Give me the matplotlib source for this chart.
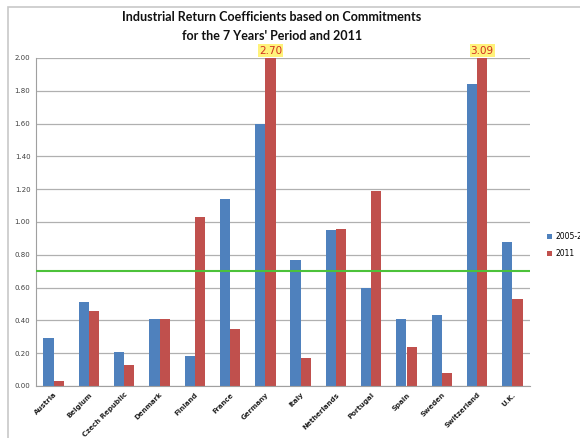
import numpy as np
import matplotlib.pyplot as plt
from matplotlib.patches import Rectangle

countries = ['Austria', 'Belgium', 'Czech Republic', 'Denmark', 'Finland', 'France',
             'Germany', 'Italy', 'Netherlands', 'Portugal', 'Spain', 'Sweden',
             'Switzerland', 'U.K.']
period = [0.29, 0.51, 0.21, 0.41, 0.18, 1.14, 1.60, 0.77, 0.95, 0.60, 0.41, 0.43, 1.84, 0.88]
y2011 = [0.03, 0.46, 0.13, 0.41, 1.03, 0.35, 2.70, 0.17, 0.96, 1.19, 0.24, 0.08, 3.09, 0.53]
threshold = 0.70
ymax = 2.0

blue = '#4F81BD'
red = '#C0504D'

fig = plt.figure(figsize=(5.8, 4.38), dpi=100)
fig.patches.append(Rectangle((8/580, -0.1), 1.2, 1 - 7/438 + 0.1, transform=fig.transFigure,
                             fill=False, edgecolor='#c8c8c8', lw=1.2))
ax = fig.add_axes([36/580, 52/438, 494/580, 328/438])

x = np.arange(len(countries))
w = 0.29
ax.bar(x - w/2, period, w, color=blue, label='2005-2011', zorder=2)
ax.bar(x + w/2, y2011, w, color=red, label='2011', zorder=2)
ax.axhline(threshold, color='#4cc23a', lw=1.5, zorder=3)

ax.set_ylim(0, ymax)
ax.set_xlim(-0.5, len(countries) - 0.5)
ax.set_yticks(np.arange(0, 2.01, 0.2))
ax.set_yticklabels(['%.2f' % v for v in np.arange(0, 2.01, 0.2)], fontsize=5, color='#404040')
ax.set_xticks(x)
ax.set_xticklabels(countries, rotation=45, ha='right', rotation_mode='anchor',
                   fontsize=5, color='#222222', fontweight='bold')
ax.tick_params(length=0, pad=4)
ax.grid(axis='y', color='#b0b0b0', lw=0.9, zorder=0)
for s in ['top', 'right']:
    ax.spines[s].set_visible(False)
for s in ['left', 'bottom']:
    ax.spines[s].set_color('#a0a0a0')

# values over the axis limit
for i, v in enumerate(y2011):
    if v > ymax:
        ax.text(x[i] + w/2, ymax + 0.015, '%.2f' % v, ha='center', va='bottom',
                fontsize=7.5, color='#d03020',
                bbox=dict(boxstyle='square,pad=0.1', fc='#fff27a', ec='none'))

fig.text(272/580, 1 - 11/438, "Industrial Return Coefficients based on Commitments\nfor the 7 Years' Period and 2011",
         ha='center', va='top', fontsize=9, fontweight='bold', family='Lato',
         linespacing=1.7, color='#111111')

fig.legend(loc='center left', bbox_to_anchor=(540/580, 0.44), frameon=False,
           fontsize=5.5, handlelength=0.7, handleheight=0.7, handletextpad=0.4,
           labelspacing=1.0)

fig.savefig('out.png', dpi=100)
